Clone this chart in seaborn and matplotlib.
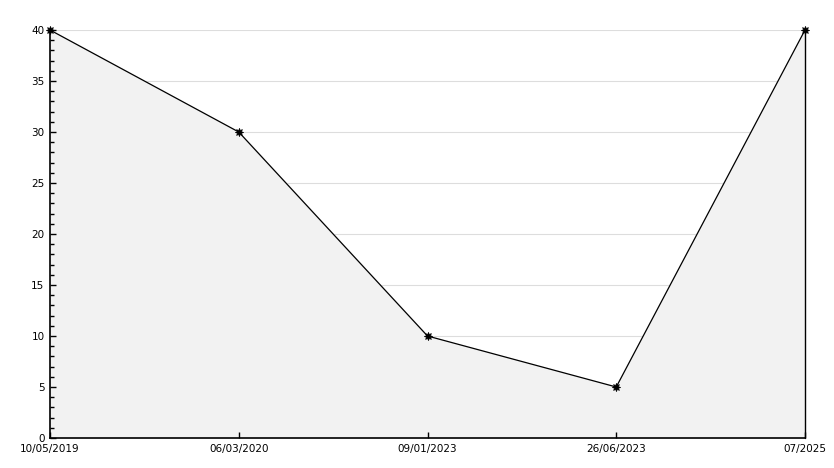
import matplotlib
matplotlib.use("Agg")
import matplotlib.pyplot as plt
import numpy as np
import pandas as pd
import seaborn as sns
from matplotlib.ticker import MultipleLocator

# chart data
dates = ["10/05/2019", "06/03/2020", "09/01/2023", "26/06/2023", "07/2025"]
values = [40, 30, 10, 5, 40]

df = pd.DataFrame({"pos": np.arange(len(dates)), "value": values})

sns.set_style("white")
plt.rcParams["font.family"] = ["DejaVu Sans"]

fig = plt.figure(figsize=(8.34, 4.68), dpi=100)
ax = fig.add_axes([50 / 834, 30 / 468, 755 / 834, 408 / 468])

# horizontal grid lines sit under the grey area
for y in range(5, 45, 5):
    ax.axhline(y, color="#dddddd", lw=0.8, zorder=0)

# grey area under the line
ax.fill_between(df["pos"], df["value"], 0, color="#f2f2f2", zorder=1)
ax.plot([df["pos"].iloc[-1]] * 2, [0, df["value"].iloc[-1]], color="black",
        lw=1, zorder=2, clip_on=False)

sns.lineplot(data=df, x="pos", y="value", ax=ax, color="black", lw=0.9,
             marker=(8, 1, 0), markersize=6, markeredgewidth=0.5,
             markeredgecolor="black", zorder=3, clip_on=False)

ax.set_xlim(0, len(dates) - 1)
ax.set_ylim(0, 40)
ax.set_xticks(df["pos"])
ax.set_xticklabels(dates, fontsize=7.5)
ax.yaxis.set_major_locator(MultipleLocator(5))
ax.yaxis.set_minor_locator(MultipleLocator(1))

ax.tick_params(axis="both", which="major", direction="in", length=4.5, width=1,
               color="black", labelcolor="black", labelsize=7.5, pad=4,
               bottom=True, left=True)
ax.tick_params(axis="y", which="minor", direction="in", length=3, width=1,
               color="black", left=True)
ax.grid(False)
ax.set_axisbelow(False)

for side in ["top", "right"]:
    ax.spines[side].set_visible(False)
for side in ["left", "bottom"]:
    ax.spines[side].set_color("black")
    ax.spines[side].set_linewidth(1.2)
    ax.spines[side].set_zorder(4)

ax.set_xlabel("")
ax.set_ylabel("")

fig.savefig("out.png", dpi=100)
